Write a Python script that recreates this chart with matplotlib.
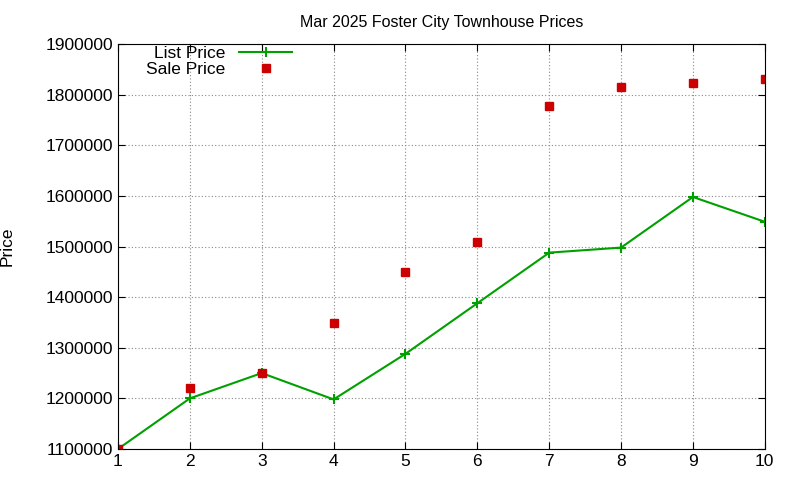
import matplotlib
matplotlib.use("Agg")
import matplotlib.pyplot as plt

x = [1, 2, 3, 4, 5, 6, 7, 8, 9, 10]
list_price = [1100000, 1200000, 1250000, 1198000, 1288000, 1388000, 1488000, 1498000, 1598000, 1549000]
sale_price = [1100000, 1220000, 1250000, 1349000, 1450000, 1509000, 1778000, 1815000, 1823000, 1831000]
yticks = list(range(1100000, 1900001, 100000))

plt.rcParams['font.family'] = ['Liberation Sans', 'DejaVu Sans']
plt.rcParams['font.size'] = 12
fig = plt.figure(figsize=(8, 4.8), dpi=100)
ax = fig.add_axes([0.1475, 0.0646, 0.8085, 0.8434])
ax.plot(x, list_price, color='#00a000', lw=1.5, marker='+', ms=7, mew=1.5, label='List Price')
ax.plot(x, sale_price, ls='none', color='#cc0000', marker='s', ms=5.5, label='Sale Price')
ax.set_xlim(1, 10)
ax.set_ylim(1100000, 1900000)
ax.set_xticks(x)
ax.set_yticks(yticks)
ax.set_yticklabels([str(v) for v in yticks])
ax.tick_params(direction='in', top=True, right=True, length=5, labelsize=12.5)
ax.grid(True, ls=(0, (1, 2)), color='#888888', lw=0.8)
ax.set_ylabel('Price', labelpad=22, fontsize=12.5)
ax.set_title('Mar 2025 Foster City Townhouse Prices', fontsize=11.5, pad=12)
leg = ax.legend(loc='upper left', frameon=False, markerfirst=False, bbox_to_anchor=(0.025, 1.025),
                handlelength=3, borderaxespad=0.3, labelspacing=0.05, fontsize=12.5)
for t in leg.get_texts():
    t.set_ha('right')
fig.savefig('out.png', dpi=100)
